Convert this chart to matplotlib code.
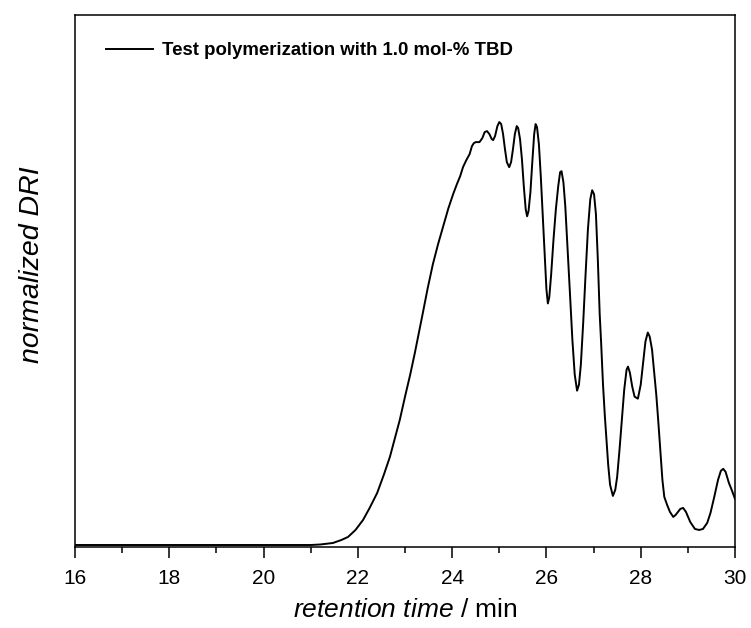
import numpy as np
import matplotlib
matplotlib.use('Agg')
import matplotlib.pyplot as plt
from matplotlib.ticker import MultipleLocator

plt.rcParams['font.family'] = ['Liberation Sans', 'DejaVu Sans']
plt.rcParams['mathtext.fontset'] = 'custom'
plt.rcParams['mathtext.it'] = 'Liberation Sans:italic'
plt.rcParams['mathtext.rm'] = 'Liberation Sans'

# retention time (min) and detector signal
time_min = [16.0, 18.0, 20.0, 21.0, 21.2, 21.47, 21.65, 21.79, 21.95, 22.11,
            22.25, 22.41, 22.55, 22.68, 22.89, 23.0, 23.11, 23.21, 23.30, 23.38,
            23.48, 23.59, 23.70, 23.81, 23.92, 24.02, 24.10, 24.17, 24.23, 24.30,
            24.37, 24.42, 24.46, 24.50, 24.58, 24.64, 24.69, 24.74, 24.79, 24.84,
            24.87, 24.91, 24.96, 25.00, 25.04, 25.08, 25.12, 25.16, 25.21, 25.25,
            25.29, 25.33, 25.37, 25.40, 25.44, 25.48, 25.52, 25.56, 25.59, 25.62,
            25.66, 25.70, 25.74, 25.77, 25.80, 25.84, 25.88, 25.92, 25.96, 26.00,
            26.03, 26.06, 26.10, 26.15, 26.20, 26.25, 26.29, 26.32, 26.36, 26.40,
            26.45, 26.50, 26.55, 26.60, 26.65, 26.69, 26.73, 26.78, 26.83, 26.88,
            26.93, 26.97, 27.01, 27.05, 27.09, 27.13, 27.16, 27.20, 27.24, 27.28,
            27.31, 27.35, 27.41, 27.46, 27.50, 27.55, 27.60, 27.65, 27.70, 27.73,
            27.77, 27.82, 27.87, 27.94, 28.00, 28.05, 28.10, 28.15, 28.19, 28.24,
            28.28, 28.33, 28.37, 28.42, 28.46, 28.50, 28.56, 28.62, 28.69, 28.74,
            28.84, 28.90, 28.96, 29.05, 29.15, 29.24, 29.32, 29.41, 29.48, 29.56,
            29.64, 29.70, 29.75, 29.80, 29.87, 29.93, 30.0]
signal = [0, 0, 0, 0, 0.5, 2, 5, 8, 15, 25,
          37, 52, 70, 88, 125, 148, 170, 192, 213, 232,
          256, 280, 300, 318, 336, 350, 360, 368, 377, 384,
          390, 398, 401, 402, 402, 406, 412, 413, 410, 405,
          404, 408, 418, 422, 420, 410, 395, 382, 377, 382,
          395, 410, 418, 416, 405, 385, 358, 335, 328, 333,
          352, 382, 410, 420, 417, 400, 368, 330, 290, 255,
          241, 247, 270, 305, 335, 358, 372, 373, 362, 338,
          295, 250, 205, 170, 154, 160, 180, 222, 270, 315,
          345, 354, 350, 330, 285, 230, 202, 160, 128, 100,
          80, 60, 49, 55, 68, 95, 125, 155, 175, 178,
          172, 158, 148, 146, 160, 182, 203, 212, 208, 195,
          175, 150, 125, 92, 65, 48, 40, 33, 28, 30,
          36, 37, 33, 23, 16, 15, 16, 22, 32, 48,
          65, 74, 76, 73, 62, 55, 46]

sig = np.array(signal) / max(signal)

fig = plt.figure(figsize=(7.51, 6.28), dpi=100)
ax = fig.add_axes([0.0999, 0.129, 0.8788, 0.847])

ax.plot(time_min, sig, color='black', lw=1.4, solid_joinstyle='round',
        label='Test polymerization with 1.0 mol-% TBD')

ax.set_xlim(16, 30)
ax.set_ylim(-0.0047, 1.253)
ax.xaxis.set_major_locator(MultipleLocator(2))
ax.xaxis.set_minor_locator(MultipleLocator(1))
ax.tick_params(axis='x', which='major', direction='out', length=8, width=1.1,
               labelsize=15, pad=8)
ax.tick_params(axis='x', which='minor', direction='out', length=4.5, width=1.1)
ax.set_yticks([])
for s in ax.spines.values():
    s.set_linewidth(1.1)

ax.set_xlabel(r'$\it{retention\ time}$ / min', fontsize=19, labelpad=7)
ax.set_ylabel('normalized DRI', fontsize=20.5, style='italic')
ax.yaxis.set_label_coords(-0.046, 0.53)

leg = ax.legend(loc='upper left', bbox_to_anchor=(0.022, 0.98), frameon=False,
                handlelength=2.5, handletextpad=0.5,
                prop={'weight': 'bold', 'size': 13.4})

fig.savefig('out.png', dpi=100)
